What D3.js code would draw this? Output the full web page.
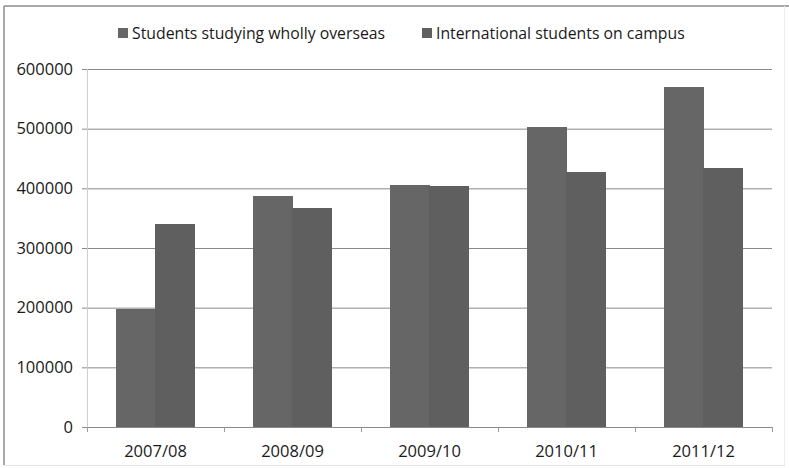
<!DOCTYPE html>
<html>
<head>
<meta charset="utf-8">
<script src="https://cdn.jsdelivr.net/npm/d3@7"></script>
<style>
  html, body { margin: 0; padding: 0; background: #fff; }
  svg { display: block; }
  text { font-family: "Open Sans", sans-serif; fill: #1a1a1a; }
</style>
</head>
<body>
<svg id="chart" width="789" height="468"></svg>
<script>
// Academic years on the x axis
const categories = ["2007/08", "2008/09", "2009/10", "2010/11", "2011/12"];
// Series names and values (number of students)
const seriesNames = ["Students studying wholly overseas", "International students on campus"];
const overseas = [198000, 387000, 406000, 503000, 570000];
const onCampus = [341000, 367000, 404000, 428000, 434000];
const yTicks = [0, 100000, 200000, 300000, 400000, 500000, 600000];
const seriesColors = ["#666666", "#5f5f5f"];

const svg = d3.select("#chart");
const W = 789, H = 468;
const margin = { left: 87, right: 17, top: 69, bottom: 41 };
const innerW = W - margin.left - margin.right;
const innerH = H - margin.top - margin.bottom;

// Outer frame
svg.append("line").attr("x1", 4).attr("x2", 789).attr("y1", 6).attr("y2", 6)
  .attr("stroke", "#8c8c8c").attr("stroke-width", 1.5);
svg.append("line").attr("x1", 4).attr("x2", 4).attr("y1", 6).attr("y2", 465)
  .attr("stroke", "#8c8c8c").attr("stroke-width", 1.5);
svg.append("line").attr("x1", 4).attr("x2", 785).attr("y1", 465.5).attr("y2", 465.5)
  .attr("stroke", "#e4e4e4").attr("stroke-width", 1);
svg.append("line").attr("x1", 784.5).attr("x2", 784.5).attr("y1", 6).attr("y2", 465)
  .attr("stroke", "#ececec").attr("stroke-width", 1);

const g = svg.append("g").attr("transform", `translate(${margin.left},${margin.top})`);

const x0 = d3.scaleBand().domain(categories).range([0, innerW]).paddingInner(0.43).paddingOuter(0.215);
const x1 = d3.scaleBand().domain(seriesNames).range([0, x0.bandwidth()]);
const y = d3.scaleLinear().domain([0, 600000]).range([innerH, 0]);

// Horizontal gridlines with small tick marks on the left
const yAxis = d3.axisLeft(y).tickValues(yTicks).tickSize(-innerW - 5).tickPadding(9).tickFormat(d3.format("d"));
const gy = g.append("g").attr("transform", "translate(-5,0)").call(yAxis);
gy.select(".domain").remove();
gy.selectAll(".tick line").attr("stroke", "#8a8a8a").attr("stroke-width", 1).attr("x1", 0).attr("x2", innerW + 5);
gy.selectAll(".tick text").attr("font-size", 16.5).attr("fill", "#1a1a1a").attr("x", -9);

// Vertical axis line
g.append("line").attr("x1", 0.5).attr("x2", 0.5).attr("y1", 0).attr("y2", innerH)
  .attr("stroke", "#cfcfcf");

// Bars
const data = categories.map((c, i) => ({ cat: c, vals: [overseas[i], onCampus[i]] }));
const groups = g.selectAll("g.cat").data(data).join("g").attr("class", "cat")
  .attr("transform", d => `translate(${Math.round(x0(d.cat))},0)`);
groups.selectAll("rect").data(d => d.vals.map((v, k) => ({ name: seriesNames[k], v, k })))
  .join("rect")
  .attr("x", d => Math.round(x1(d.name)))
  .attr("width", Math.round(x1.bandwidth()) + 0.5)
  .attr("y", d => y(d.v))
  .attr("height", d => innerH - y(d.v))
  .attr("fill", d => seriesColors[d.k])
  .attr("shape-rendering", "crispEdges");

// Category axis: baseline with tick marks at band boundaries
const step = x0.step();
g.append("line").attr("x1", 0).attr("x2", innerW).attr("y1", innerH + 0.5).attr("y2", innerH + 0.5)
  .attr("stroke", "#8a8a8a");
d3.range(categories.length + 1).forEach(i => {
  g.append("line").attr("x1", i * step + 0.5).attr("x2", i * step + 0.5)
    .attr("y1", innerH).attr("y2", innerH + 5).attr("stroke", "#9a9a9a");
});
g.selectAll("text.cat").data(categories).join("text").attr("class", "cat")
  .attr("x", d => x0(d) + x0.bandwidth() / 2)
  .attr("y", innerH + 30)
  .attr("text-anchor", "middle")
  .attr("font-size", 16.5)
  .text(d => d);

// Legend
const legendX = [118, 422];
const lg = svg.append("g");
seriesNames.forEach((name, k) => {
  lg.append("rect").attr("x", legendX[k]).attr("y", 28).attr("width", 10).attr("height", 10)
    .attr("fill", seriesColors[k]);
  lg.append("text").attr("x", legendX[k] + 14).attr("y", 39).attr("font-size", 15.8)
    .text(name);
});
</script>
</body>
</html>
